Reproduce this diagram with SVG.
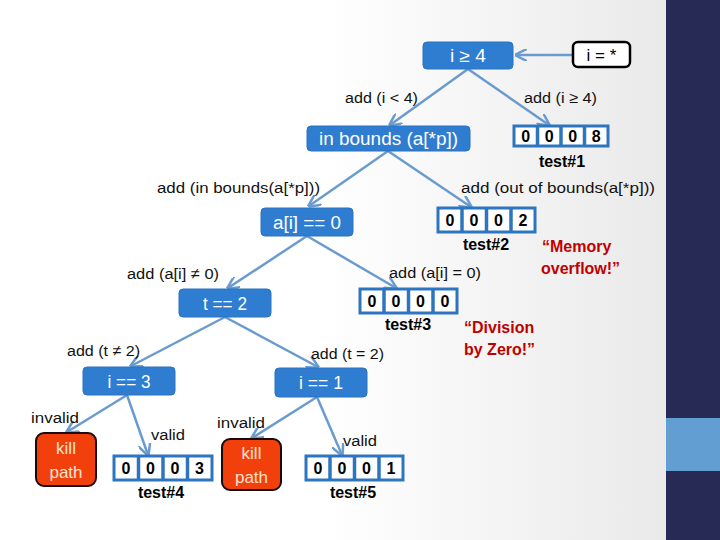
<svg xmlns="http://www.w3.org/2000/svg" width="720" height="540" viewBox="0 0 720 540">
<defs>
<linearGradient id="bg" x1="0" y1="0" x2="1" y2="0">
<stop offset="0" stop-color="#ffffff"/>
<stop offset="0.45" stop-color="#ffffff"/>
<stop offset="1" stop-color="#e6e6e6"/>
</linearGradient>
<marker id="ah" viewBox="0 0 10 10" refX="9" refY="5" markerWidth="5" markerHeight="5" orient="auto" markerUnits="strokeWidth">
<path d="M0,0 L10,5 L0,10" fill="none" stroke="#6a9bcf" stroke-width="2"/>
</marker>
<style>
.box{fill:#2f7dd1;stroke:#2a72bf;stroke-width:1}
.bt{font-family:"Liberation Sans",Arial,sans-serif;font-size:18px;fill:#ffffff;text-anchor:middle}
.lbl{font-family:"Liberation Sans",Arial,sans-serif;font-size:15.5px;fill:#111111}
.cell{fill:#ffffff;stroke:#2e75c0;stroke-width:3}
.div{stroke:#2e75c0;stroke-width:3.5}
.dg{font-family:"Liberation Sans",Arial,sans-serif;font-size:16px;font-weight:bold;fill:#000000;text-anchor:middle}
.tst{font-family:"Liberation Sans",Arial,sans-serif;font-size:16px;font-weight:bold;fill:#000000;text-anchor:middle}
.red{font-family:"Liberation Sans",Arial,sans-serif;font-size:16px;font-weight:bold;fill:#c00000}
.kill{fill:#f2400c;stroke:#1a0a0a;stroke-width:2}
.kt{font-family:"Liberation Sans",Arial,sans-serif;font-size:17px;fill:#fbe3cf;text-anchor:middle}
.e{stroke:#6a9bcf;stroke-width:2.5;fill:none;marker-end:url(#ah)}
</style>
</defs>
<rect x="0" y="0" width="720" height="540" fill="url(#bg)"/>
<rect x="666" y="0" width="54" height="540" fill="#262a55"/>
<rect x="666" y="418" width="54" height="53" fill="#629ed2"/>

<g id="connectors">
<line class="e" x1="573" y1="55" x2="516" y2="55"/>
<line class="e" x1="468" y1="69" x2="390" y2="125"/>
<line class="e" x1="468" y1="69" x2="549" y2="125"/>
<line class="e" x1="388" y1="151" x2="309" y2="206"/>
<line class="e" x1="388" y1="151" x2="471" y2="207"/>
<line class="e" x1="307" y1="236" x2="228" y2="288"/>
<line class="e" x1="307" y1="236" x2="396" y2="288"/>
<line class="e" x1="225" y1="317" x2="131" y2="366"/>
<line class="e" x1="225" y1="317" x2="318" y2="367"/>
<line class="e" x1="127" y1="395" x2="67" y2="432"/>
<line class="e" x1="127" y1="395" x2="148" y2="455"/>
<line class="e" x1="317" y1="397" x2="252" y2="438"/>
<line class="e" x1="317" y1="397" x2="342" y2="455"/>
</g>

<g id="labels">
<text class="lbl" x="345" y="103" textLength="73" lengthAdjust="spacingAndGlyphs">add (i &lt; 4)</text>
<text class="lbl" x="524" y="103" textLength="73" lengthAdjust="spacingAndGlyphs">add (i ≥ 4)</text>
<text class="lbl" x="157" y="193" textLength="163" lengthAdjust="spacingAndGlyphs">add (in bounds(a[*p]))</text>
<text class="lbl" x="461" y="193" textLength="194" lengthAdjust="spacingAndGlyphs">add (out of bounds(a[*p]))</text>
<text class="lbl" x="127" y="279" textLength="92" lengthAdjust="spacingAndGlyphs">add (a[i] ≠ 0)</text>
<text class="lbl" x="389" y="278" textLength="92" lengthAdjust="spacingAndGlyphs">add (a[i] = 0)</text>
<text class="lbl" x="67" y="356" textLength="73" lengthAdjust="spacingAndGlyphs">add (t ≠ 2)</text>
<text class="lbl" x="311" y="359" textLength="73" lengthAdjust="spacingAndGlyphs">add (t = 2)</text>
<text class="lbl" x="31" y="423" textLength="48" lengthAdjust="spacingAndGlyphs">invalid</text>
<text class="lbl" x="151" y="440" textLength="34" lengthAdjust="spacingAndGlyphs">valid</text>
<text class="lbl" x="217" y="428" textLength="48" lengthAdjust="spacingAndGlyphs">invalid</text>
<text class="lbl" x="343" y="446" textLength="34" lengthAdjust="spacingAndGlyphs">valid</text>
</g>

<g id="n-istar">
<rect x="573" y="42" width="57" height="25" rx="5" fill="#ffffff" stroke="#000000" stroke-width="2.5"/>
<text x="601.5" y="61" font-family="Liberation Sans, Arial, sans-serif" font-size="17" text-anchor="middle" fill="#000">i = *</text>
</g>
<g id="n-ige4">
<rect class="box" x="423" y="42" width="90" height="27" rx="4"/>
<text class="bt" x="468" y="62" textLength="36" lengthAdjust="spacingAndGlyphs">i ≥ 4</text>
</g>
<g id="n-inbounds">
<rect class="box" x="307" y="126" width="163" height="25" rx="4"/>
<text class="bt" x="388.5" y="145" textLength="139" lengthAdjust="spacingAndGlyphs">in bounds (a[*p])</text>
</g>
<g id="t1">
<rect class="cell" x="514" y="126" width="94" height="20"/>
<line class="div" x1="537.5" y1="126" x2="537.5" y2="146"/>
<line class="div" x1="561" y1="126" x2="561" y2="146"/>
<line class="div" x1="584.5" y1="126" x2="584.5" y2="146"/>
<text class="dg" x="525.75" y="142">0</text>
<text class="dg" x="549.25" y="142">0</text>
<text class="dg" x="572.75" y="142">0</text>
<text class="dg" x="596.25" y="142">8</text>
<text class="tst" x="562" y="167">test#1</text>
</g>
<g id="n-ai">
<rect class="box" x="261" y="208" width="92" height="28" rx="4"/>
<text class="bt" x="307" y="229" textLength="68" lengthAdjust="spacingAndGlyphs">a[i] == 0</text>
</g>
<g id="t2">
<rect class="cell" x="438" y="208" width="97" height="24"/>
<line class="div" x1="462" y1="208" x2="462" y2="232"/>
<line class="div" x1="486.5" y1="208" x2="486.5" y2="232"/>
<line class="div" x1="511" y1="208" x2="511" y2="232"/>
<text class="dg" x="450" y="226">0</text>
<text class="dg" x="474" y="226">0</text>
<text class="dg" x="498.5" y="226">0</text>
<text class="dg" x="523" y="226">2</text>
<text class="tst" x="486" y="250">test#2</text>
</g>
<g id="memory">
<text class="red" x="542" y="252">“Memory</text>
<text class="red" x="541" y="274">overflow!”</text>
</g>
<g id="n-t2">
<rect class="box" x="179" y="289" width="92" height="28" rx="4"/>
<text class="bt" x="225" y="310" textLength="44" lengthAdjust="spacingAndGlyphs">t == 2</text>
</g>
<g id="t3">
<rect class="cell" x="360" y="289" width="97" height="24"/>
<line class="div" x1="384" y1="289" x2="384" y2="313"/>
<line class="div" x1="408.5" y1="289" x2="408.5" y2="313"/>
<line class="div" x1="433" y1="289" x2="433" y2="313"/>
<text class="dg" x="372" y="307">0</text>
<text class="dg" x="396" y="307">0</text>
<text class="dg" x="420.5" y="307">0</text>
<text class="dg" x="445" y="307">0</text>
<text class="tst" x="408" y="330">test#3</text>
</g>
<g id="division">
<text class="red" x="464" y="333">“Division</text>
<text class="red" x="464" y="355">by Zero!”</text>
</g>
<g id="n-i3">
<rect class="box" x="83" y="367" width="92" height="28" rx="4"/>
<text class="bt" x="129" y="388" textLength="43" lengthAdjust="spacingAndGlyphs">i == 3</text>
</g>
<g id="n-i1">
<rect class="box" x="275" y="368" width="92" height="29" rx="4"/>
<text class="bt" x="321" y="389" textLength="44" lengthAdjust="spacingAndGlyphs">i == 1</text>
</g>
<g id="kill1">
<rect class="kill" x="36" y="433" width="60" height="53" rx="8"/>
<text class="kt" x="66" y="454">kill</text>
<text class="kt" x="66" y="478">path</text>
</g>
<g id="t4">
<rect class="cell" x="114" y="456" width="98" height="24"/>
<line class="div" x1="138.5" y1="456" x2="138.5" y2="480"/>
<line class="div" x1="163" y1="456" x2="163" y2="480"/>
<line class="div" x1="187.5" y1="456" x2="187.5" y2="480"/>
<text class="dg" x="126" y="474">0</text>
<text class="dg" x="150.5" y="474">0</text>
<text class="dg" x="175" y="474">0</text>
<text class="dg" x="199.5" y="474">3</text>
<text class="tst" x="161" y="498">test#4</text>
</g>
<g id="kill2">
<rect class="kill" x="222" y="439" width="59" height="51" rx="8"/>
<text class="kt" x="251.5" y="459">kill</text>
<text class="kt" x="251.5" y="483">path</text>
</g>
<g id="t5">
<rect class="cell" x="306" y="456" width="97" height="24"/>
<line class="div" x1="330" y1="456" x2="330" y2="480"/>
<line class="div" x1="354.5" y1="456" x2="354.5" y2="480"/>
<line class="div" x1="379" y1="456" x2="379" y2="480"/>
<text class="dg" x="318" y="474">0</text>
<text class="dg" x="342" y="474">0</text>
<text class="dg" x="366.5" y="474">0</text>
<text class="dg" x="391" y="474">1</text>
<text class="tst" x="353" y="498">test#5</text>
</g>
</svg>
